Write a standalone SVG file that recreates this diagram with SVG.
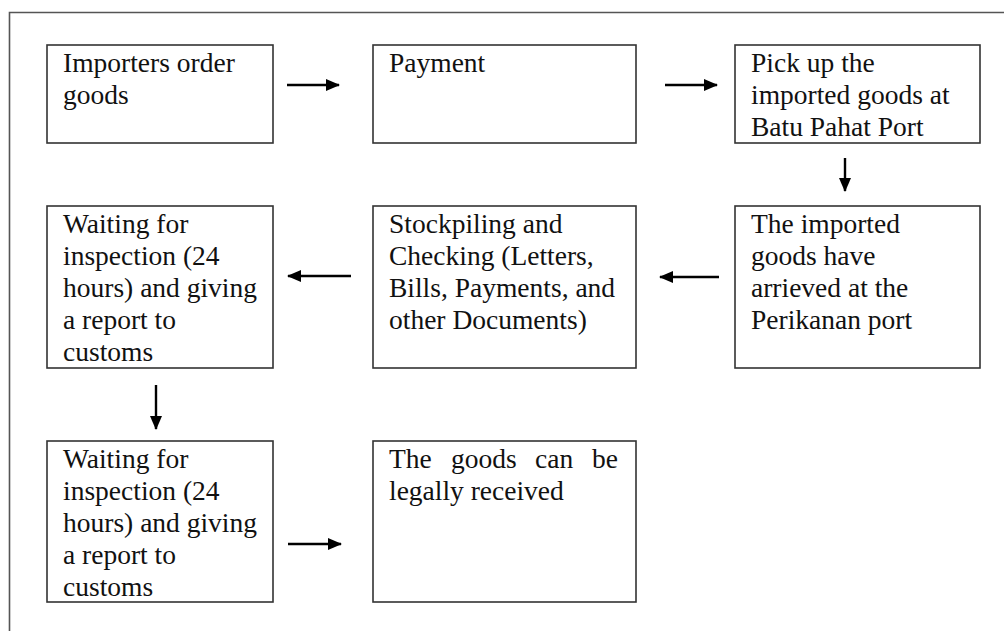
<svg xmlns="http://www.w3.org/2000/svg" width="1004" height="631" viewBox="0 0 1004 631">
<defs>
<marker id="ah" markerWidth="14" markerHeight="12" refX="13" refY="6" orient="auto" markerUnits="userSpaceOnUse">
<path d="M0,0 L14,6 L0,12 Z" fill="#000"/>
</marker>
<style>
.box{fill:#fff;stroke:#333;stroke-width:1.6}
.t{font-family:'Liberation Serif','Times New Roman',Times,serif;font-size:27.5px;fill:#111}
.c{stroke:#000;stroke-width:2.4;fill:none;marker-end:url(#ah)}
</style>
</defs>
<rect width="1004" height="631" fill="#fff"/>
<path d="M9.5,640 L9.5,12.5 L1010,12.5" fill="none" stroke="#555" stroke-width="1.6"/>

<g id="n1"><rect class="box" x="47" y="45" width="226" height="98"/>
<text class="t" x="63" y="72">Importers order</text><text class="t" x="63" y="104">goods</text></g>
<g id="n2"><rect class="box" x="373" y="45" width="263" height="98"/>
<text class="t" x="389" y="72">Payment</text></g>
<g id="n3"><rect class="box" x="735" y="45" width="245" height="98"/>
<text class="t" x="751" y="72">Pick up the</text><text class="t" x="751" y="104">imported goods at</text><text class="t" x="751" y="136">Batu Pahat Port</text></g>
<g id="n4"><rect class="box" x="47" y="206" width="226" height="162"/>
<text class="t" x="63" y="233">Waiting for</text><text class="t" x="63" y="265">inspection (24</text><text class="t" x="63" y="297">hours) and giving</text><text class="t" x="63" y="329">a report to</text><text class="t" x="63" y="361">customs</text></g>
<g id="n5"><rect class="box" x="373" y="206" width="263" height="162"/>
<text class="t" x="389" y="233">Stockpiling and</text><text class="t" x="389" y="265">Checking (Letters,</text><text class="t" x="389" y="297">Bills, Payments, and</text><text class="t" x="389" y="329">other Documents)</text></g>
<g id="n6"><rect class="box" x="735" y="206" width="245" height="162"/>
<text class="t" x="751" y="233">The imported</text><text class="t" x="751" y="265">goods have</text><text class="t" x="751" y="297">arrieved at the</text><text class="t" x="751" y="329">Perikanan port</text></g>
<g id="n7"><rect class="box" x="47" y="441" width="226" height="161"/>
<text class="t" x="63" y="468">Waiting for</text><text class="t" x="63" y="500">inspection (24</text><text class="t" x="63" y="532">hours) and giving</text><text class="t" x="63" y="564">a report to</text><text class="t" x="63" y="596">customs</text></g>
<g id="n8"><rect class="box" x="373" y="441" width="263" height="161"/>
<text class="t" y="468"><tspan x="389">The</tspan><tspan x="451">goods</tspan><tspan x="535">can</tspan><tspan x="592">be</tspan></text>
<text class="t" x="389" y="500">legally received</text></g>

<g id="connectors">
<line class="c" x1="287" y1="85" x2="339" y2="85"/>
<line class="c" x1="665" y1="85" x2="717" y2="85"/>
<line class="c" x1="845" y1="158" x2="845" y2="191"/>
<line class="c" x1="719" y1="277" x2="660" y2="277"/>
<line class="c" x1="351" y1="276" x2="288" y2="276"/>
<line class="c" x1="156" y1="385" x2="156" y2="429"/>
<line class="c" x1="288" y1="544" x2="341" y2="544"/>
</g>
</svg>
